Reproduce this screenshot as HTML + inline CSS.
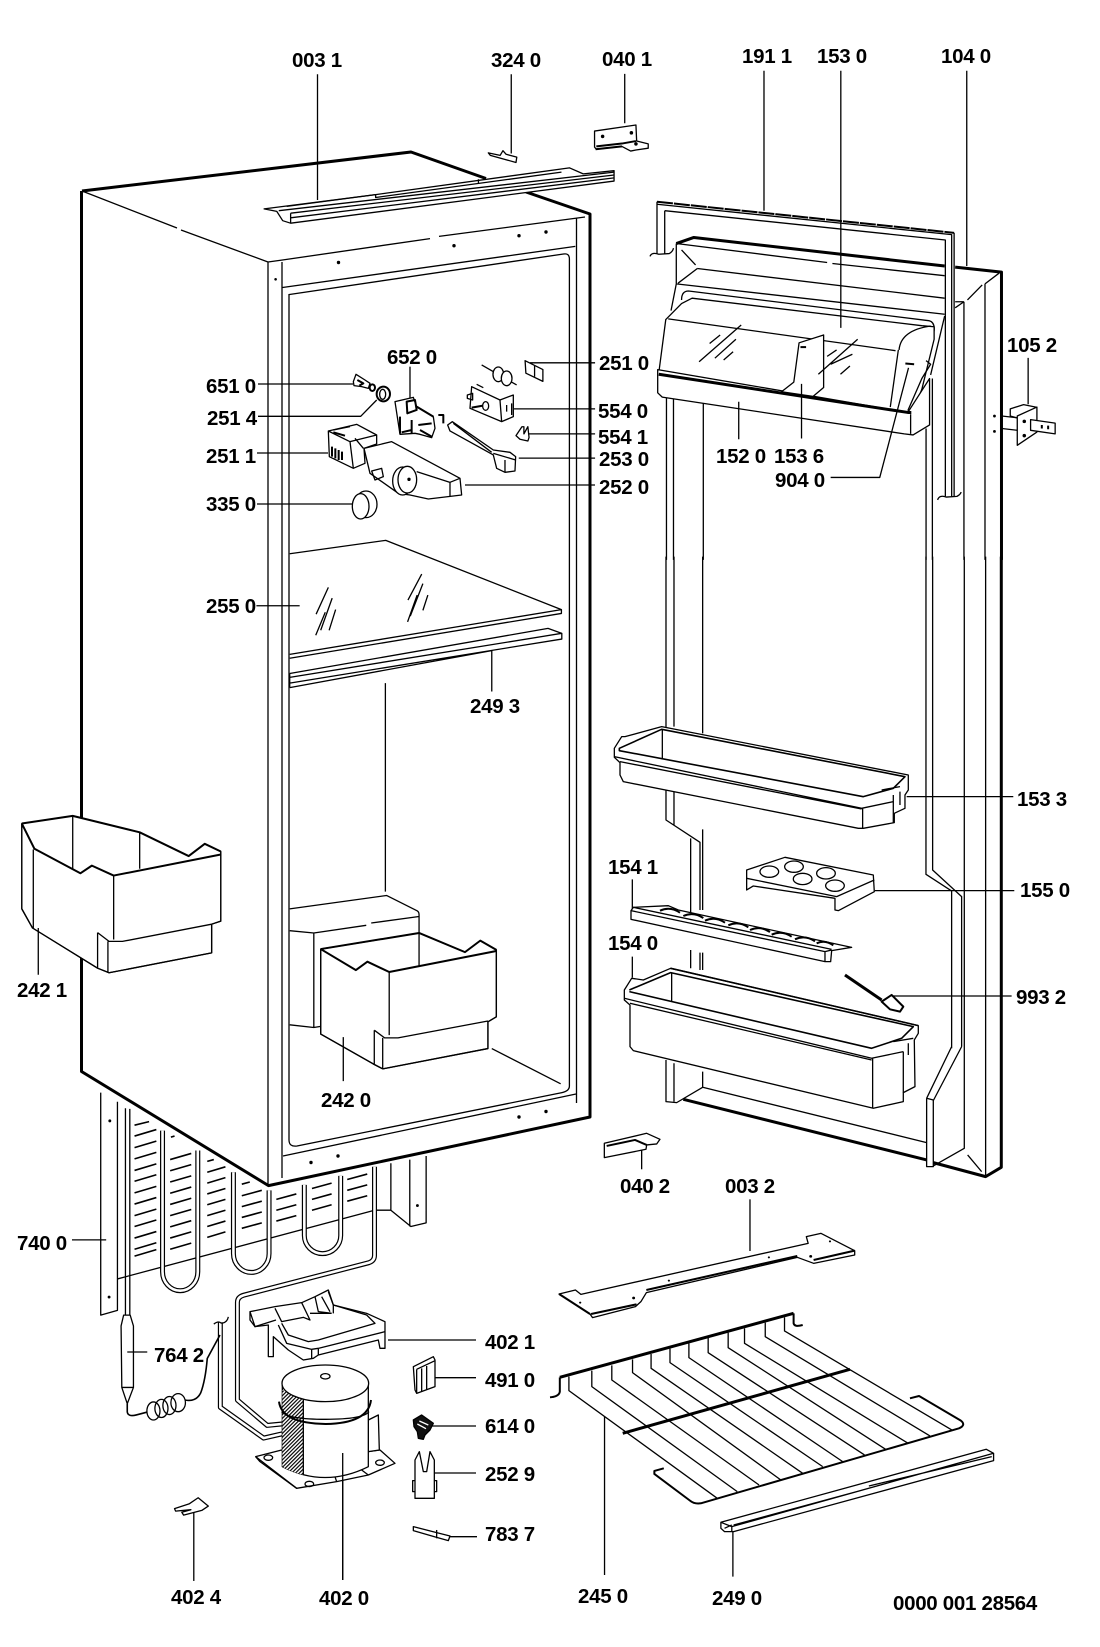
<!DOCTYPE html>
<html><head><meta charset="utf-8"><style>
html,body{margin:0;padding:0;background:#fff}
svg{display:block}
svg *{vector-effect:non-scaling-stroke}
path,polygon,ellipse{fill:none;stroke:#000;stroke-width:1.3;stroke-linejoin:round}
.f{fill:#fff}
.h{stroke-width:3}
.m{stroke-width:2}
.n{stroke-width:1.6}
.d{fill:#000;stroke:none}
.b1{fill:none;stroke:#000;stroke-width:5}
.b2{fill:none;stroke:#fff;stroke-width:2.6}
text{font-family:"Liberation Sans",sans-serif;font-weight:bold;font-size:20.5px;letter-spacing:-.3px;fill:#000;stroke:none}
</style></head><body>
<svg width="1100" height="1647" viewBox="0 0 1100 1647" xmlns="http://www.w3.org/2000/svg">
<defs><pattern id="hat" width="8" height="8" patternUnits="userSpaceOnUse" patternTransform="rotate(45)"><rect width="8" height="8" fill="#fff"/><rect width="3.5" height="8" fill="#000"/></pattern></defs>
<rect width="1100" height="1647" fill="#fff"/>

<path class="h" d="M82,191 L411,152 L486,178.5 M526,192 L590,214 V1117 L268.5,1185.6 L81.5,1071.5 V191"/>
<path d="M82,191 L177,228 M181,230 L268,262 V1185 M282,262 V1178 M268,262 L282.5,260 L430,238.6 M439,236.4 L585,217 M576.5,218 V1103"/>
<path d="M282.5,287.5 L575.3,246.4 M288.6,294.6 L563.5,254 Q569.4,253 569.4,259 V1086 Q569.4,1091 562,1092.6 L297,1146 Q289,1147 289,1140 V294"/>
<path d="M283,1156 L576,1094"/>
<circle class="d" cx="338.5" cy="262.5" r="1.7"/><circle class="d" cx="275.6" cy="279.3" r="1.3"/><circle class="d" cx="454" cy="245.7" r="1.7"/><circle class="d" cx="519" cy="235.7" r="1.7"/><circle class="d" cx="546" cy="232" r="1.7"/><circle class="d" cx="311" cy="1162.5" r="1.7"/><circle class="d" cx="338" cy="1156" r="1.7"/><circle class="d" cx="519" cy="1117" r="1.7"/><circle class="d" cx="546" cy="1111.5" r="1.7"/>

<g transform="translate(0 530) scale(.3827)">
<path d="M757,62 L1008,27 L1467,208 V218 L757,335 M757,325 L1467,208"/>
<path d="M858,150 L826,220 M868,178 L838,262 M877,208 L860,262 M850,215 L825,275 M1102,115 L1066,183 M1105,140 L1072,225 M1118,170 L1105,210 M1090,170 L1065,240"/>
<path d="M757,375 L1432,257 L1468,270 V285 L757,400 M757,385 L1468,270 M757,412 L1285,315 M757,375 V412"/>
<path d="M1007,400 V945"/>
<path d="M757,990 L1010,955 L1090,995 Q1095,998 1095,1005 V1140 M757,1047 L820,1053 L957,1033 M970,1027 L1095,1010 M820,1053 V1300 M757,1293 L820,1300 L838,1297 M1285,1355 L1465,1447"/>
<polygon class="f" points="57,767 190,747 365,790 493,852 535,820 577,840 577,1022 553,1030 553,1105 285,1157 255,1145 85,1040 57,990"/>
<path class="m" d="M57,767 L190,747 L365,790 L493,852 L535,820 L577,840 M57,767 L90,833 L210,897 L240,877 L297,903 L577,848"/>
<path d="M57,767 V990 L85,1040 L255,1145 L285,1157 L553,1105 V1030 L577,1022 V840 M87,835 V1040 M297,903 V1070 M190,750 V885 M365,790 V885 M255,1052 L285,1075 H320 L553,1030 M255,1052 V1145 M282,1075 V1155 M100,1040 V1162"/>
<polygon class="f" points="838,1095 1095,1053 1215,1103 1255,1073 1297,1097 1297,1272 1275,1285 1275,1355 1000,1408 975,1395 838,1317"/>
<path class="m" d="M838,1095 L1095,1053 L1215,1103 L1255,1073 L1297,1097 M838,1095 L930,1150 L960,1128 L1017,1155 L1297,1100"/>
<path d="M838,1095 V1317 L975,1395 L1000,1408 L1275,1355 V1285 L1297,1272 V1097 M1017,1155 V1320 M1095,1053 V1140 M978,1307 L1005,1327 H1040 L1275,1283 M978,1307 V1395 M1000,1327 V1407 M897,1325 V1440"/>
<path d="M670,198 H783 M1285,315 V422"/>
</g>

<g transform="scale(.3954 .3571)">
<polygon class="f" points="668,585 950,545 1440,470 1475,487 1553,478 1553,507 735,625 715,618 700,592"/>
<path d="M705,590 L1553,482 M735,597 L1553,490 M735,610 L1553,498 M725,578 L950,545 V553 L1420,482 M735,597 V625 M1210,502 V512"/>
<path d="M803,208 V560 M1293,208 V430"/>
<polygon class="f" points="1235,428 1265,435 1272,422 1280,432 1307,440 1305,455 1240,435"/>
<path d="M1340,1016 H1505 M1300,1145 H1505 M1330,1215 H1505 M1312,1283 H1505"/>
<polygon class="f" points="1328,1010 1373,1035 1373,1068 1330,1045"/>
<path d="M1352,1024 V1055"/>
<polygon class="f" points="1305,1220 1320,1195 1325,1195 1325,1215 1335,1195 1338,1225 1335,1235 1315,1230"/>
</g>

<path d="M258,384 H353 M258,416.3 H360.7 L376.7,400 M257,453 H328 M257,504 H353 M465,485 H595 M388,1340 H476 M433,1377.7 H476 M432,1426 H476 M431,1473 H476 M450,1536.7 H477 M342.7,1453 V1580"/>

<g transform="translate(320 345) scale(.3333)">
<path d="M270,65 V165"/>
<polygon class="f" points="100,110 108,88 135,105 150,115 145,130 125,125 102,122"/>
<path class="m" d="M112,105 L130,115 L118,122"/>
<ellipse class="f m" cx="157" cy="128" rx="8" ry="10"/>
<ellipse class="f m" cx="190" cy="147" rx="20" ry="22"/><ellipse cx="188" cy="148" rx="9" ry="15"/>
<polygon class="f" points="225,170 280,157 290,185 340,215 345,250 335,278 300,268 285,265 240,268"/>
<path class="m" d="M260,170 L285,165 L290,195 L262,205 Z M290,185 L340,215 M240,215 L240,265 M275,225 V265 M295,240 L335,235 M300,255 L335,275 M355,210 H370 V235 M245,262 L275,255"/>
<path d="M485,60 L590,120"/>
<ellipse class="f" cx="535" cy="88" rx="16" ry="22"/><ellipse class="f" cx="560" cy="100" rx="16" ry="22"/>
<polygon class="f" points="455,125 540,165 580,150 580,215 545,230 450,190"/>
<path d="M540,165 L545,230 M442,150 L458,145 V165 L442,160 Z M470,118 L490,128 M560,180 V200 M575,175 V210"/>
<path class="m" d="M455,188 L500,180"/><ellipse class="f" cx="497" cy="183" rx="9" ry="13"/>
<polygon class="f" points="383,240 397,230 520,315 570,322 587,335 585,378 555,382 530,370 520,330 390,258"/>
<path d="M400,235 L515,322 M520,325 L587,345 M555,345 V382"/>
<polygon class="f" points="25,258 110,238 170,270 170,297 132,310 135,355 100,370 28,335"/>
<path d="M25,258 L90,290 L170,270 M90,290 L100,370 M40,255 L90,245 M105,280 L130,310"/>
<path class="m" d="M36,305 V335 M46,310 V340 M56,315 V345 M66,320 V345 M40,262 L75,272"/>
<polygon class="f" points="132,310 215,290 420,400 425,450 325,462 270,450 235,445 150,385"/>
<path d="M390,412 V455 M390,412 L420,400 M290,380 L390,412"/>
<polygon points="155,378 185,370 190,395 165,405"/>
<ellipse class="f" cx="248" cy="408" rx="30" ry="42"/><ellipse class="f" cx="262" cy="404" rx="28" ry="40"/><circle class="d" cx="267" cy="403" r="5"/>
<ellipse class="f" cx="138" cy="478" rx="33" ry="40"/><ellipse class="f" cx="122" cy="484" rx="25" ry="38"/>
</g>

<g transform="translate(550 0) scale(.3508 .3571)">
<path class="h" d="M360,682 L410,665 L1125,745 M1155,748 L1287,762 V1568"/>
<path d="M360,682 L790,735 M805,738 L1125,772 M420,752 L1125,835 M360,795 L1125,880 M420,752 L365,793 M360,682 V795 M375,700 L415,742 M1240,795 L1280,765 M1240,795 V1568 M1180,845 V1568 M1155,845 H1180 M1155,862 L1180,845 M1190,840 L1232,798"/>
<path d="M332,1115 V1568 M352,1115 V1568 M437,1130 V1568 M1072,1200 V1568 M1090,1060 V1568"/>
<path d="M360,795 L345,870 M375,840 Q375,815 395,815 L1080,898 Q1097,902 1095,925 L1060,1090 L1040,1130"/>
<polygon class="f" points="330,895 375,850 405,835 1060,912 1095,915 1095,950 1060,1090 1040,1140 1020,1155 310,1045"/>
<path d="M337,893 L985,982 M995,980 Q1000,925 1085,913 M993,980 L970,1140 M1125,885 L1085,1050 M1072,1010 L1085,1020 L1060,1060 L1020,1150"/>
<polygon class="f" points="307,1035 1020,1155 1082,1060 1082,1190 1035,1218 1010,1215 320,1112 307,1100"/>
<path class="h" d="M310,1048 L1020,1155 H1030"/>
<path d="M1028,1160 V1215"/>
<polygon class="f" points="710,960 780,938 780,1085 750,1110 660,1097 695,1070"/>
<path class="m" d="M714,972 H730"/>
<path d="M425,1013 L545,910 M455,962 L485,938 M470,1003 L530,950 M495,1008 L522,985 M765,1048 L877,950 M790,998 L817,980 M800,1020 L862,992 M828,1048 L855,1025"/>
<path class="m" d="M1013,1018 L1038,1020"/>
<path d="M305,572 L1145,657 V1390 M327,590 L1127,672 V1390 M305,565 V710 M327,590 V710 M1152,652 V1390"/>
<path class="m" stroke-dasharray="16 1" d="M305,565 L1152,652"/>
<path d="M285,718 Q290,705 310,712 L340,710 Q350,705 352,695 M1105,1400 Q1110,1385 1130,1392 L1160,1390 Q1170,1385 1172,1378"/>
<path d="M610,198 V590 M829,198 V918 M1188,198 V745 M538,1125 V1230 M717,1075 V1228 M800,1337 H940 L1022,1030 M213,207 V345 M1363,1002 V1132"/>
<polygon class="f" points="127,367 245,350 247,395 280,403 280,415 245,420 230,423 205,410 132,418 127,412"/>
<path class="m" d="M132,410 L205,402 L245,395 M130,418 L205,410"/>
<path d="M1288,1165 L1332,1170 M1288,1200 L1332,1205 M1288,1165 V1200"/>
<polygon class="f" points="1312,1145 1350,1133 1385,1140 1385,1160 1330,1170 1312,1165"/>
<polygon class="f" points="1332,1165 1388,1140 1388,1210 1332,1247"/>
<polygon class="f" points="1370,1175 1440,1185 1440,1215 1370,1205"/>
<path class="m" d="M1402,1190 V1200 M1420,1192 V1202"/>
<circle class="d" cx="150" cy="382" r="5"/><circle class="d" cx="232" cy="372" r="5"/><circle class="d" cx="245" cy="403" r="5"/>
<circle class="d" cx="1267" cy="1165" r="4"/><circle class="d" cx="1267" cy="1208" r="4"/><circle class="d" cx="1352" cy="1180" r="5"/><circle class="d" cx="1352" cy="1220" r="5"/>
</g>

<g transform="translate(580 680) scale(.3333)">
<path d="M258,-370 V420 L360,487 V690 M282,-370 V140 M282,320 V435 M332,475 V700 M368,-370 V160 M368,448 V690 M332,810 V865 M360,818 V870 M368,818 V870 M258,1140 V1265 L290,1268 L368,1222 M282,1150 V1265 M368,1175 V1222 L1040,1388"/>
<path d="M1038,-370 V583 L1115,633 V1105 M1058,-370 V570 L1145,650 V1100 M1115,1100 L1040,1255 M1145,1100 L1060,1262 M1040,1255 V1460 H1060 V1260 L1040,1255 M1153,-370 V1405 L1060,1458 M1217,-370 V1490 M1163,1425 L1205,1475"/>
<path class="h" d="M1264,-370 V1462 L1217,1490 L1060,1448 M1040,1440 L310,1258"/>
<polygon class="f" points="103,205 125,170 135,170 245,140 985,285 985,330 975,345 975,385 943,400 943,428 850,445 835,445 130,305 120,285 120,248 103,232"/>
<path class="n" d="M118,205 L245,148 L975,290 L940,325 L850,350 L118,212 Z"/>
<path d="M247,148 V238 M103,230 L845,385 L940,365 M120,245 L845,387 M848,385 V445 M940,345 V428 M960,335 V375 M905,330 L960,320 M980,350 H1300"/>
<polygon class="f" points="500,570 615,532 880,585 883,635 775,692 765,690 765,655 520,618 500,630"/>
<path d="M500,595 L770,650 L883,600"/>
<ellipse cx="568" cy="575" rx="28" ry="17"/><ellipse cx="642" cy="560" rx="28" ry="17"/><ellipse cx="738" cy="580" rx="28" ry="17"/><ellipse cx="668" cy="597" rx="28" ry="17"/><ellipse cx="765" cy="617" rx="28" ry="17"/>
<path d="M885,632 H1303 M157,598 V690 M157,830 V893"/>
<polygon class="f" points="133,930 155,895 190,900 272,865 1015,1037 1015,1060 1003,1080 1005,1220 970,1238 970,1265 880,1285 160,1112 150,1100 150,975 133,960"/>
<path class="n" d="M148,930 L272,878 L1000,1040 L965,1075 L875,1105 L148,935 M272,865 L1015,1037"/>
<path d="M275,878 V965 M133,955 L875,1135 L970,1115 M150,970 L875,1140 M878,1135 V1285 M970,1115 V1238 M940,1085 L1000,1075 M985,1090 V1125"/>
<path class="h" d="M795,885 L905,960"/>
<path class="m f" d="M905,965 L935,945 L970,980 L960,995 L930,988 Z"/>
<path d="M935,948 H1295"/>
<polygon class="f" points="73,1390 200,1360 240,1378 230,1392 200,1395 198,1408 73,1433"/>
<path class="m" d="M80,1398 L165,1380 L200,1395"/>
<path d="M185,1410 V1468"/>
</g>

<g transform="translate(625 890) scale(.3333)">
<polygon class="f" points="18,62 25,52 130,47 160,60 680,172 620,182 617,215 600,215 18,88"/>
<path d="M18,62 L600,185 L620,180 M600,185 V215 M25,52 L620,178"/>
<path class="m" d="M105,62 Q135,48 165,68 M175,78 Q205,64 235,84 M240,92 Q270,78 300,98 M310,106 Q340,92 370,112 M375,120 Q405,106 435,126 M440,134 Q470,120 500,140 M510,148 Q540,134 570,154 M575,160 Q600,148 625,166"/>
</g>

<g transform="translate(0 1080) scale(.3636 .3617)">
<path d="M277,35 V650 L323,637 V60 M323,550 L1030,360 H1075 M1075,230 V360 L1130,405 L1172,395 V210 M1127,220 V405"/>
<path d="M345,78 V650 M357,80 V650"/>
<path class="n" d="M370,125l40,-10M370,155l60,-18M370,187l60,-18M370,218l60,-18M370,250l60,-18M370,280l60,-18M370,312l60,-18M370,343l60,-18M370,375l60,-18M370,405l60,-18M370,437l60,-18M370,468l60,-18M370,487l60,-18"/>
<path class="n" d="M470,158l10,-3M468,220l58,-17M468,251l58,-17M468,282l58,-17M468,313l58,-17M468,344l58,-17M468,375l58,-17M468,406l58,-17M468,437l58,-17M468,468l58,-17"/>
<path class="n" d="M570,225l18,-5M570,255l50,-15M570,285l50,-15M570,315l50,-15M570,345l50,-15M570,375l50,-15M570,405l50,-15M570,435l50,-15"/>
<path class="n" d="M665,288l22,-6M665,320l55,-15M665,350l55,-15M665,380l55,-15M665,410l55,-15"/>
<path class="n" d="M760,330l55,-15M760,360l55,-15M760,390l55,-15"/>
<path class="n" d="M858,300l54,-15M858,330l54,-15M858,360l54,-15"/>
<path class="n" d="M955,275l55,-15M955,305l55,-15M955,335l55,-15"/>
<path class="b1" d="M447,140 V530 A48,52 0 0 0 544,530 V195"/><path class="b2" d="M447,140 V530 A48,52 0 0 0 544,530 V195"/>
<path class="b1" d="M642,255 V480 A49,52 0 0 0 740,480 V305"/><path class="b2" d="M642,255 V480 A49,52 0 0 0 740,480 V305"/>
<path class="b1" d="M837,290 V430 A50,50 0 0 0 937,430 V265"/><path class="b2" d="M837,290 V430 A50,50 0 0 0 937,430 V265"/>
<path class="b1" d="M1030,240 V485 Q1030,500 1015,505 L670,595 Q653,600 653,615 V885 L735,955 L785,950"/><path class="b2" d="M1030,240 V485 Q1030,500 1015,505 L670,595 Q653,600 653,615 V885 L735,955 L785,950"/>
<path class="b1" d="M606,670 V905 L725,990 L790,975"/><path class="b2" d="M606,670 V905 L725,990 L790,975"/>
<path d="M588,675 Q600,665 608,672 L612,672 Q625,670 628,655"/>
<polygon class="f" points="340,650 358,650 367,680 367,850 350,895 335,850 333,680"/>
<path d="M335,850 H367 M350,752 H405 M198,442 H292"/>
<path class="n" d="M350,895 V918 Q352,932 375,926 L405,918 M510,885 Q540,890 552,865 Q565,830 570,770 L605,705"/>
<ellipse cx="422" cy="915" rx="18" ry="25"/><ellipse cx="444" cy="908" rx="18" ry="25"/><ellipse cx="466" cy="900" rx="18" ry="25"/><ellipse cx="490" cy="892" rx="20" ry="25"/>
<path d="M533,1195 V1385"/>
<polygon class="f" points="480,1185 520,1172 545,1155 573,1178 555,1190 505,1203 500,1195 525,1188 483,1192"/>
<circle class="d" cx="302" cy="113" r="4"/><circle class="d" cx="300" cy="600" r="4"/><circle class="d" cx="1148" cy="347" r="4"/>
</g>

<g transform="translate(220 1280) scale(.3333)">
<polygon class="f" points="90,95 165,80 245,68 285,50 325,30 340,75 440,100 495,125 495,205 480,205 475,180 295,225 280,235 250,240 205,210 160,170 160,230 145,230 145,135 105,140 90,120"/>
<path d="M90,95 L105,140 L168,120 M165,85 L185,125 L250,112 L270,120 L245,68 M285,50 L295,95 L335,100 M305,50 L330,95 M325,35 L340,75 V100 M185,130 L205,165 L265,185 L295,180 L465,130 L440,105 L340,75 M175,135 L200,190 L275,208 L295,205 L495,155 M275,208 V235 M295,205 V225 M270,100 L335,100"/>
<polygon class="f" points="107,530 185,510 445,515 480,510 525,550 445,585 350,605 230,625"/>
<path d="M107,530 L120,545 L230,625 M350,605 L345,590 M425,570 L445,585"/>
<ellipse cx="145" cy="533" rx="13" ry="8"/><ellipse cx="268" cy="612" rx="13" ry="8"/><ellipse cx="480" cy="548" rx="13" ry="8"/>
<path class="f" d="M445,420 L475,405 L478,510 L445,515 Z"/>
<path class="f" d="M187,310 V560 Q315,625 445,560 V310 Z"/>
<path style="fill:url(#hat);stroke:none" d="M187,330 L250,360 V585 Q210,575 187,560 Z"/>
<path d="M250,350 V585"/>
<path class="m" d="M177,365 Q185,430 317,432 Q445,430 453,360"/>
<path d="M185,395 Q205,418 317,418 Q430,418 447,395"/>
<ellipse class="f" cx="316" cy="310" rx="130" ry="55"/>
<ellipse class="f" cx="316" cy="289" rx="14" ry="8"/>
</g>

<path d="M342.7,1453 V1580"/>

<g transform="translate(400 1340) scale(.3333)">
<polygon class="f" points="40,80 100,50 105,60 105,140 50,160 45,150"/>
<path d="M50,88 L105,62 M50,88 V160 M65,85 V155 M80,78 V150"/>
<polygon style="fill:#111" points="40,240 65,225 100,250 90,270 75,285 70,298 55,295 52,275 42,260"/>
<path style="stroke:#fff" d="M58,243 L85,255 M52,252 L78,266"/>
<polygon class="f" points="45,475 45,360 58,335 70,395 80,395 90,335 103,360 103,475"/>
<path d="M45,422 H38 V455 H45 M103,422 H110 V455 H103"/>
<polygon class="f" points="40,560 110,578 150,588 145,602 110,592 40,572"/>
<path d="M110,570 V595"/>
</g>

<g transform="translate(530 1180) scale(.3636 .3333)">
<polygon class="f" points="80,342 125,330 140,343 765,190 760,170 800,160 893,212 893,225 780,250 735,232 320,338 305,365 290,380 172,413 165,402"/>
<path class="m" d="M320,330 L735,228 M80,342 L165,402 M293,373 L168,402 M780,240 L893,212"/>
<path d="M605,58 V213"/>
<circle class="d" cx="138" cy="368" r="3"/><circle class="d" cx="285" cy="354" r="4"/><circle class="d" cx="382" cy="302" r="3"/><circle class="d" cx="657" cy="232" r="3"/><circle class="d" cx="772" cy="229" r="4"/><circle class="d" cx="825" cy="184" r="3"/>
<path class="h" d="M82,592 L725,400"/>
<path class="m" d="M82,592 V635 Q80,650 55,652 M725,400 V430 Q727,442 750,435"/>
<path d="M107,590 V632 L515,955 M170,572 V620 L570,935 M225,556 V600 L630,915 M282,538 V578 L690,900 M333,522 V565 L750,880 M385,506 V548 L805,860 M437,490 V533 L860,845 M490,474 V518 L920,825 M545,458 V503 L978,808 M590,445 V490 L1040,790 M647,428 V470 L1100,768 M700,412 V453 L1160,750"/>
<path class="h" d="M255,760 L880,568"/>
<path class="m" d="M368,865 L342,873 V882 L440,962 Q452,973 470,970 L1180,745 Q1200,735 1185,722 L1070,648 L1045,655"/>
<path d="M205,710 V1185"/>
<polygon class="f" points="525,1027 1255,808 1275,820 1275,842 560,1055 535,1055 525,1045"/>
<path d="M525,1027 L555,1040 L1275,820 M555,1040 V1055 M535,1045 L555,1035 M560,1035 L915,930 M932,918 L1270,830 M558,1055 V1190"/>
</g>

<text x="292" y="67">003 1</text>
<text x="491" y="67">324 0</text>
<text x="602" y="66">040 1</text>
<text x="742" y="63">191 1</text>
<text x="817" y="63">153 0</text>
<text x="941" y="63">104 0</text>
<text x="1007" y="352">105 2</text>
<text x="387" y="364">652 0</text>
<text x="206" y="393">651 0</text>
<text x="207" y="425">251 4</text>
<text x="206" y="463">251 1</text>
<text x="206" y="511">335 0</text>
<text x="599" y="370">251 0</text>
<text x="598" y="418">554 0</text>
<text x="598" y="444">554 1</text>
<text x="599" y="466">253 0</text>
<text x="599" y="494">252 0</text>
<text x="716" y="463">152 0</text>
<text x="774" y="463">153 6</text>
<text x="775" y="487">904 0</text>
<text x="206" y="613">255 0</text>
<text x="470" y="713">249 3</text>
<text x="17" y="997">242 1</text>
<text x="321" y="1107">242 0</text>
<text x="1017" y="806">153 3</text>
<text x="1020" y="897">155 0</text>
<text x="608" y="874">154 1</text>
<text x="608" y="950">154 0</text>
<text x="1016" y="1004">993 2</text>
<text x="620" y="1193">040 2</text>
<text x="725" y="1193">003 2</text>
<text x="17" y="1250">740 0</text>
<text x="154" y="1362">764 2</text>
<text x="485" y="1349">402 1</text>
<text x="485" y="1387">491 0</text>
<text x="485" y="1433">614 0</text>
<text x="485" y="1481">252 9</text>
<text x="485" y="1541">783 7</text>
<text x="171" y="1604">402 4</text>
<text x="319" y="1605">402 0</text>
<text x="578" y="1603">245 0</text>
<text x="712" y="1605">249 0</text>
<text x="893" y="1610">0000 001 28564</text>
</svg>
</body></html>
